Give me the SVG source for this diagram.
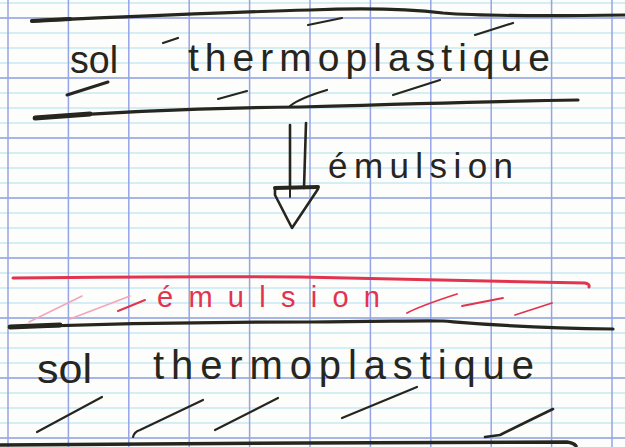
<svg xmlns="http://www.w3.org/2000/svg" width="625" height="447" viewBox="0 0 625 447">
<style>
.v{stroke:#95a4e6;stroke-width:1.5}
.hd{stroke:#8b9ce0;stroke-width:1.5}
.hl{stroke:#ade0f2;stroke-width:1.2}
.ink{fill:none;stroke:#26261f;stroke-linecap:round;stroke-linejoin:round}
.inkr{fill:none;stroke:#e2334f;stroke-linecap:round;stroke-linejoin:round}
.faint{fill:none;stroke:#f2a6ba;stroke-linecap:round;stroke-width:1.6}
.txt{font-family:"Liberation Sans",Arial,sans-serif;fill:#26261f}
.txtr{font-family:"Liberation Sans",Arial,sans-serif;fill:#e2334f}
</style>
<rect width="625" height="447" fill="#fdfdfb"/>
<g id="paper">
<g class="hl">
<line x1="0" y1="3" x2="625" y2="3"/><line x1="0" y1="33" x2="625" y2="33"/><line x1="0" y1="48" x2="625" y2="48"/><line x1="0" y1="63" x2="625" y2="63"/>
<line x1="0" y1="93" x2="625" y2="93"/><line x1="0" y1="108" x2="625" y2="108"/><line x1="0" y1="123" x2="625" y2="123"/>
<line x1="0" y1="153" x2="625" y2="153"/><line x1="0" y1="168" x2="625" y2="168"/><line x1="0" y1="183" x2="625" y2="183"/>
<line x1="0" y1="213" x2="625" y2="213"/><line x1="0" y1="228" x2="625" y2="228"/><line x1="0" y1="243" x2="625" y2="243"/>
<line x1="0" y1="273" x2="625" y2="273"/><line x1="0" y1="288" x2="625" y2="288"/><line x1="0" y1="303" x2="625" y2="303"/>
<line x1="0" y1="333" x2="625" y2="333"/><line x1="0" y1="348" x2="625" y2="348"/><line x1="0" y1="363" x2="625" y2="363"/>
<line x1="0" y1="393" x2="625" y2="393"/><line x1="0" y1="408" x2="625" y2="408"/><line x1="0" y1="423" x2="625" y2="423"/>
</g>
<g class="hd">
<line x1="0" y1="18" x2="625" y2="18"/><line x1="0" y1="78" x2="625" y2="78"/><line x1="0" y1="138" x2="625" y2="138"/><line x1="0" y1="198" x2="625" y2="198"/>
<line x1="0" y1="258" x2="625" y2="258"/><line x1="0" y1="318" x2="625" y2="318"/><line x1="0" y1="378" x2="625" y2="378"/><line x1="0" y1="438" x2="625" y2="438"/>
</g>
<g class="v">
<line x1="8" y1="0" x2="8" y2="447"/><line x1="68.4" y1="0" x2="68.4" y2="447"/><line x1="128.8" y1="0" x2="128.8" y2="447"/><line x1="189.2" y1="0" x2="189.2" y2="447"/>
<line x1="249.6" y1="0" x2="249.6" y2="447"/><line x1="310" y1="0" x2="310" y2="447"/><line x1="370.4" y1="0" x2="370.4" y2="447"/><line x1="430.8" y1="0" x2="430.8" y2="447"/>
<line x1="491.2" y1="0" x2="491.2" y2="447"/><line x1="551.6" y1="0" x2="551.6" y2="447"/><line x1="612" y1="0" x2="612" y2="447"/>
</g>
</g>
<g id="layer-sol-top">
<path class="ink" stroke-width="3.2" d="M32,21 C100,18 200,13 310,10 C360,8 400,8 443,13 C480,16 560,16 625,15"/>
<path class="ink" stroke-width="4.2" d="M32,21 L70,19"/>
<path class="ink" stroke-width="3.2" d="M35,118 C100,113 200,108 300,107 C400,104 500,101 578,100"/>
<path class="ink" stroke-width="4.8" d="M35,118 L90,114"/>
<text class="txt" x="70" y="73" font-size="38" textLength="48" lengthAdjust="spacingAndGlyphs">sol</text>
<text class="txt" x="188" y="71" font-size="39" textLength="362" lengthAdjust="spacing">thermoplastique</text>
<g class="ink" stroke-width="2.2">
<path d="M163,43 L178,38"/>
<path d="M308,25 L342,18"/>
<path d="M475,35 L513,23"/>
<path stroke-width="3" d="M67,95 L108,82"/>
<path d="M218,99 L247,91"/>
<path d="M290,106 Q300,98 327,90"/>
<path d="M393,95 L440,80"/>
</g>
</g>
<g id="connectors">
<path class="ink" stroke-width="2.6" d="M290,125 L290,188"/>
<path class="ink" stroke-width="2.6" d="M306,123 L304,188"/>
<path class="ink" stroke-width="4" d="M275,188 L318,187"/>
<path class="ink" stroke-width="2.6" d="M275,189 L275,195 L292,228 L318,189"/>
<path class="ink" stroke-width="2" d="M290,189 L290,197"/>
</g>
<g id="label-emulsion">
<text class="txt" x="328" y="178" font-size="35" textLength="185" lengthAdjust="spacing">émulsion</text>
</g>
<g id="layer-emulsion">
<path class="inkr" stroke-width="3" d="M13,278 C100,277 200,276 300,277 C400,279 500,282 585,283 Q590,284 589,287"/>
<text class="txtr" x="157" y="307" font-size="29" textLength="223" lengthAdjust="spacing">émulsion</text>
<path class="faint" d="M29,322 L82,296"/>
<path class="faint" d="M70,319 L130,296"/>
<path class="inkr" stroke-width="2" d="M118,311 L145,300"/>
<path class="inkr" stroke-width="1.8" d="M407,313 Q420,306 457,294"/>
<path class="inkr" stroke-width="1.8" d="M462,306 L503,298"/>
<path class="inkr" stroke-width="1.8" d="M515,315 L552,303"/>
</g>
<g id="layer-sol-bottom">
<path class="ink" stroke-width="3.2" d="M10,327 C100,324 200,322 311,322 C380,322 420,320 443,321 C480,324 520,328 613,329"/>
<path class="ink" stroke-width="4.8" d="M10,327 L60,325"/>
<text class="txt" x="37" y="383" font-size="40" textLength="55" lengthAdjust="spacingAndGlyphs">sol</text>
<text class="txt" x="153" y="379" font-size="40" textLength="381" lengthAdjust="spacing">thermoplastique</text>
<g class="ink" stroke-width="2.2">
<path d="M37,432 L102,397"/>
<path d="M133,437 Q134,432 140,430 L203,400"/>
<path d="M215,430 L278,398"/>
<path d="M342,418 L417,387"/>
<path stroke-width="2.6" d="M485,437 L500,435 Q520,425 553,409"/>
</g>
<path class="ink" stroke-width="3.4" d="M0,445 C150,444 400,442 567,442 Q574,443 576,446"/>
</g>
</svg>
